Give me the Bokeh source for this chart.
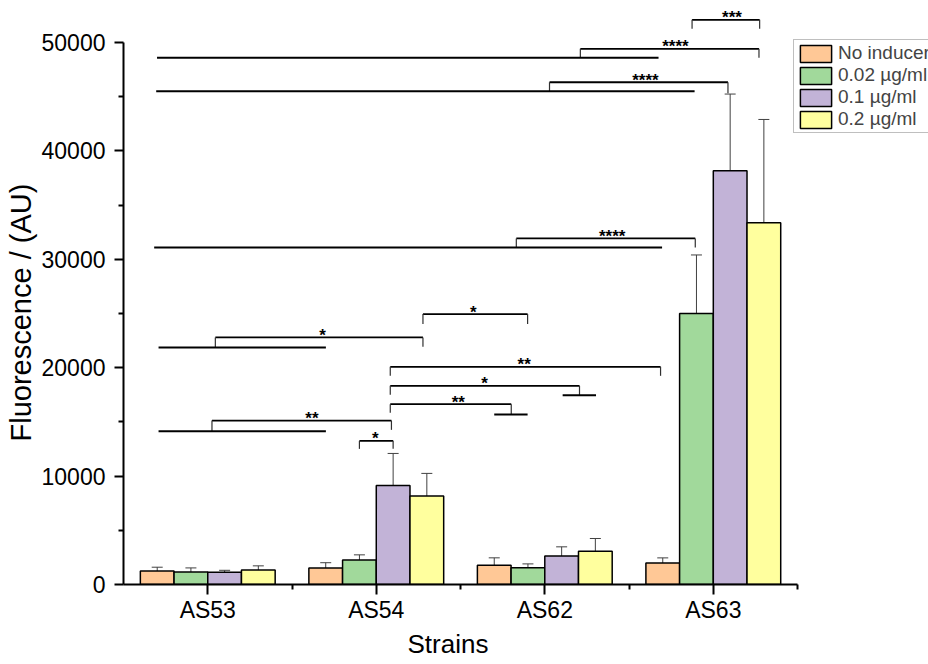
from bokeh.plotting import figure
from bokeh.models import (Range1d, FixedTicker, Whisker, TeeHead, ColumnDataSource,
                          Legend, LegendItem, Title, BasicTickFormatter)
from bokeh.core.properties import value
from bokeh.embed import file_html
from bokeh.resources import INLINE

# ---------------- data ----------------
strains = ["AS53", "AS54", "AS62", "AS63"]
series = ["No inducer", "0.02 \u00b5g/ml", "0.1 \u00b5g/ml", "0.2 \u00b5g/ml"]

no_inducer = [1240, 1520, 1770, 1980]
no_inducer_err = [355, 490, 690, 475]
ind_002 = [1150, 2260, 1550, 25000]
ind_002_err = [380, 475, 350, 5400]
ind_01 = [1125, 9140, 2630, 38180]
ind_01_err = [185, 2950, 845, 7065]
ind_02 = [1340, 8160, 3060, 33380]
ind_02_err = [380, 2090, 1185, 9520]

y_ticks = [0, 10000, 20000, 30000, 40000, 50000]
y_minor = [5000, 15000, 25000, 35000, 45000]

# significance brackets (x in strain-axis units, y in AU)
br_x1 = [1.40, 0.525, 0.545, 1.777, 1.583, 1.583, 1.583, 2.331, 2.528, 2.711, 3.374]
br_x2 = [1.60, 1.59, 1.777, 2.398, 3.187, 2.706, 2.301, 3.393, 3.587, 3.771, 3.775]
br_y = [13250, 15125, 22789, 24949, 20083, 18329, 16639, 31930, 46334, 49418, 52096]
br_y1 = [12512, 14146, 21865, 24026, 19252, 17498, 15836, 31099, 45503, 48587, 51265]
br_y2 = [12512, 14266, 21930, 24026, 19252, 17470, 15679, 31099, 45319, 48587, 51265]
br_label = ["*", "**", "*", "*", "**", "*", "**", "****", "****", "****", "***"]
br_label_x = [1.494, 1.118, 1.181, 2.076, 2.378, 2.143, 1.987, 2.900, 3.097, 3.275, 3.611]

base_x1 = [0.208, 0.208, 2.606, 2.200, 0.182, 0.194, 0.199]
base_x2 = [1.201, 1.201, 2.804, 2.398, 3.196, 3.389, 3.175]
base_y = [14146, 21865, 17470, 15679, 31099, 45503, 48587]

colors = ["#FFC896", "#A1D99B", "#C2B3D7", "#FFFF9E"]
FONT = "Liberation Sans"

# ---------------- figure ----------------
p = figure(width=928, height=664, output_backend="svg", toolbar_location=None,
           x_range=Range1d(0, 4.777), y_range=Range1d(0, 53875),
           min_border_left=123, min_border_right=0, min_border_top=0, min_border_bottom=80)
p.outline_line_color = None
p.grid.visible = False

offsets = [-0.3, -0.1, 0.1, 0.3]
bar_w = 0.2
renderers = []
for k, (vals, errs) in enumerate([(no_inducer, no_inducer_err), (ind_002, ind_002_err),
                                  (ind_01, ind_01_err), (ind_02, ind_02_err)]):
    xs = [i + 0.5 + offsets[k] for i in range(len(strains))]
    src = ColumnDataSource(dict(x=xs, top=vals,
                                upper=[v + e for v, e in zip(vals, errs)],
                                lower=[v - e for v, e in zip(vals, errs)]))
    r = p.vbar(x="x", top="top", width=bar_w, source=src, fill_color=colors[k],
               line_color="black", line_width=1.5)
    renderers.append(r)
    w = Whisker(base="x", upper="upper", lower="lower", source=src,
                line_color="#404040", line_width=1,
                upper_head=TeeHead(size=11, line_color="#404040", line_width=1),
                lower_head=TeeHead(size=11, line_color="#404040", line_width=1))
    p.add_layout(w)

# brackets
h_xs = [[a, b] for a, b in zip(br_x1, br_x2)]
h_ys = [[y, y] for y in br_y]
p.multi_line(h_xs, h_ys, line_color="black", line_width=1.8)
leg_xs = [[a, a] for a in br_x1] + [[b, b] for b in br_x2]
leg_ys = [[y, y1] for y, y1 in zip(br_y, br_y1)] + [[y, y2] for y, y2 in zip(br_y, br_y2)]
p.multi_line(leg_xs, leg_ys, line_color="#303030", line_width=1.2)
p.multi_line([[a, b] for a, b in zip(base_x1, base_x2)], [[y, y] for y in base_y],
             line_color="black", line_width=2)
p.text(x=br_label_x, y=br_y, text=br_label, text_align="center", text_baseline="alphabetic",
       y_offset=-2, text_font=value(FONT), text_font_size="17px", text_font_style="bold",
       text_color="black")

# axes
xa = p.xaxis[0]
xa.ticker = FixedTicker(ticks=[i + 0.5 for i in range(len(strains))], minor_ticks=[1, 2, 3, 4])
xa.major_label_overrides = {i + 0.5: s for i, s in enumerate(strains)}
xa.bounds = (0, 4)
ya = p.yaxis[0]
ya.ticker = FixedTicker(ticks=y_ticks, minor_ticks=y_minor)
ya.formatter = BasicTickFormatter(use_scientific=False)
ya.bounds = (0, 50000)

for ax in (xa, ya):
    ax.axis_line_width = 2
    ax.axis_line_color = "black"
    ax.major_tick_line_width = 2
    ax.minor_tick_line_width = 2
    ax.major_tick_in = 0
    ax.minor_tick_in = 0
    ax.minor_tick_out = 5
    ax.major_label_text_font = FONT
    ax.major_label_text_font_size = "23px"
    ax.major_label_text_color = "black"
xa.major_tick_out = 10
xa.major_label_standoff = 2
ya.major_tick_out = 9
ya.major_label_standoff = 9

# axis titles (centred on the axis lines, not the whole frame)
p.add_layout(Title(text="Fluorescence / (AU)", align="left", offset=143, standoff=3,
                   text_font=FONT, text_font_size="29px", text_font_style="normal",
                   text_color="black"), "left")
p.add_layout(Title(text="Strains", align="left", offset=284, standoff=3,
                   text_font=FONT, text_font_size="26px", text_font_style="normal",
                   text_color="black"), "below")

legend = Legend(items=[LegendItem(label=s, renderers=[r]) for s, r in zip(series, renderers)],
                location=(670, 451), label_text_font=FONT, label_text_font_size="19px",
                glyph_width=39, glyph_height=21, label_height=21, label_standoff=3,
                spacing=0, padding=2, margin=0, border_line_color="#7f7f7f",
                border_line_width=1, background_fill_alpha=1.0)
p.add_layout(legend)

open("out.html", "w").write(file_html(p, INLINE))
